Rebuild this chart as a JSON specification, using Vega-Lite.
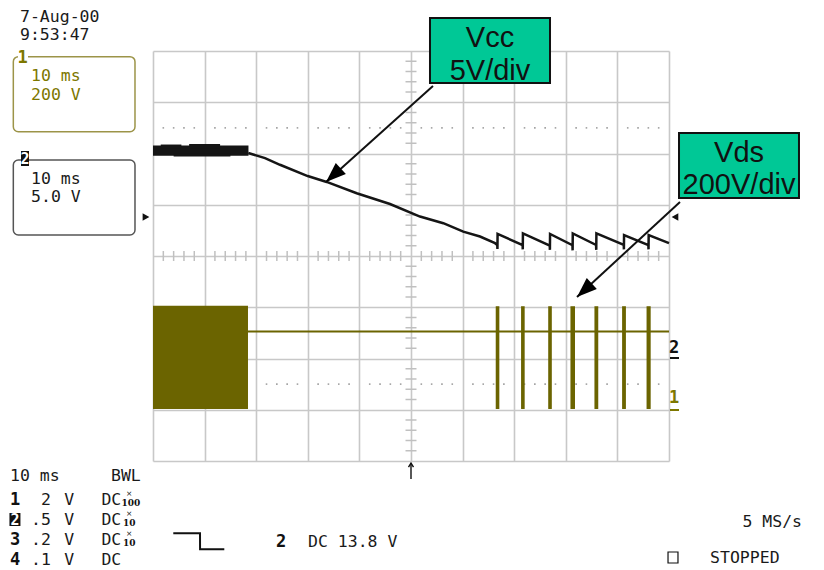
{
  "$schema": "https://vega.github.io/schema/vega-lite/v6.json",
  "width": 516,
  "height": 410,
  "autosize": {"type": "none"},
  "padding": {"left": 153, "top": 51, "right": 155, "bottom": 109},
  "background": "white",
  "config": {
    "view": {"stroke": null},
    "text": {"font": "DejaVu Sans Mono", "fontSize": 16.5, "baseline": "alphabetic", "align": "left", "color": "#1a1a1a"}
  },
  "datasets": {
    "hticks": [{"x":0.2,"y":4},{"x":0.4,"y":4},{"x":0.6,"y":4},{"x":0.8,"y":4},{"x":1.2,"y":4},{"x":1.4,"y":4},{"x":1.6,"y":4},{"x":1.8,"y":4},{"x":2.2,"y":4},{"x":2.4,"y":4},{"x":2.6,"y":4},{"x":2.8,"y":4},{"x":3.2,"y":4},{"x":3.4,"y":4},{"x":3.6,"y":4},{"x":3.8,"y":4},{"x":4.2,"y":4},{"x":4.4,"y":4},{"x":4.6,"y":4},{"x":4.8,"y":4},{"x":5.2,"y":4},{"x":5.4,"y":4},{"x":5.6,"y":4},{"x":5.8,"y":4},{"x":6.2,"y":4},{"x":6.4,"y":4},{"x":6.6,"y":4},{"x":6.8,"y":4},{"x":7.2,"y":4},{"x":7.4,"y":4},{"x":7.6,"y":4},{"x":7.8,"y":4},{"x":8.2,"y":4},{"x":8.4,"y":4},{"x":8.6,"y":4},{"x":8.8,"y":4},{"x":9.2,"y":4},{"x":9.4,"y":4},{"x":9.6,"y":4},{"x":9.8,"y":4}],
    "vticks": [{"x":5,"y":0.2},{"x":5,"y":0.4},{"x":5,"y":0.6},{"x":5,"y":0.8},{"x":5,"y":1.2},{"x":5,"y":1.4},{"x":5,"y":1.6},{"x":5,"y":1.8},{"x":5,"y":2.2},{"x":5,"y":2.4},{"x":5,"y":2.6},{"x":5,"y":2.8},{"x":5,"y":3.2},{"x":5,"y":3.4},{"x":5,"y":3.6},{"x":5,"y":3.8},{"x":5,"y":4.2},{"x":5,"y":4.4},{"x":5,"y":4.6},{"x":5,"y":4.8},{"x":5,"y":5.2},{"x":5,"y":5.4},{"x":5,"y":5.6},{"x":5,"y":5.8},{"x":5,"y":6.2},{"x":5,"y":6.4},{"x":5,"y":6.6},{"x":5,"y":6.8},{"x":5,"y":7.2},{"x":5,"y":7.4},{"x":5,"y":7.6},{"x":5,"y":7.8}],
    "dots": [{"x":0.2,"y":1.5},{"x":0.4,"y":1.5},{"x":0.6,"y":1.5},{"x":0.8,"y":1.5},{"x":1.2,"y":1.5},{"x":1.4,"y":1.5},{"x":1.6,"y":1.5},{"x":1.8,"y":1.5},{"x":2.2,"y":1.5},{"x":2.4,"y":1.5},{"x":2.6,"y":1.5},{"x":2.8,"y":1.5},{"x":3.2,"y":1.5},{"x":3.4,"y":1.5},{"x":3.6,"y":1.5},{"x":3.8,"y":1.5},{"x":4.2,"y":1.5},{"x":4.4,"y":1.5},{"x":4.6,"y":1.5},{"x":4.8,"y":1.5},{"x":5.2,"y":1.5},{"x":5.4,"y":1.5},{"x":5.6,"y":1.5},{"x":5.8,"y":1.5},{"x":6.2,"y":1.5},{"x":6.4,"y":1.5},{"x":6.6,"y":1.5},{"x":6.8,"y":1.5},{"x":7.2,"y":1.5},{"x":7.4,"y":1.5},{"x":7.6,"y":1.5},{"x":7.8,"y":1.5},{"x":8.2,"y":1.5},{"x":8.4,"y":1.5},{"x":8.6,"y":1.5},{"x":8.8,"y":1.5},{"x":9.2,"y":1.5},{"x":9.4,"y":1.5},{"x":9.6,"y":1.5},{"x":9.8,"y":1.5},
      {"x":0.2,"y":6.5},{"x":0.4,"y":6.5},{"x":0.6,"y":6.5},{"x":0.8,"y":6.5},{"x":1.2,"y":6.5},{"x":1.4,"y":6.5},{"x":1.6,"y":6.5},{"x":1.8,"y":6.5},{"x":2.2,"y":6.5},{"x":2.4,"y":6.5},{"x":2.6,"y":6.5},{"x":2.8,"y":6.5},{"x":3.2,"y":6.5},{"x":3.4,"y":6.5},{"x":3.6,"y":6.5},{"x":3.8,"y":6.5},{"x":4.2,"y":6.5},{"x":4.4,"y":6.5},{"x":4.6,"y":6.5},{"x":4.8,"y":6.5},{"x":5.2,"y":6.5},{"x":5.4,"y":6.5},{"x":5.6,"y":6.5},{"x":5.8,"y":6.5},{"x":6.2,"y":6.5},{"x":6.4,"y":6.5},{"x":6.6,"y":6.5},{"x":6.8,"y":6.5},{"x":7.2,"y":6.5},{"x":7.4,"y":6.5},{"x":7.6,"y":6.5},{"x":7.8,"y":6.5},{"x":8.2,"y":6.5},{"x":8.4,"y":6.5},{"x":8.6,"y":6.5},{"x":8.8,"y":6.5},{"x":9.2,"y":6.5},{"x":9.4,"y":6.5},{"x":9.6,"y":6.5},{"x":9.8,"y":6.5}],
    "vds_bars": [
      {"x":0,"x2":1.841,"y":1.015,"y2":3.03},
      {"x":6.642,"x2":6.712,"y":1.015,"y2":3.02},
      {"x":7.133,"x2":7.203,"y":1.015,"y2":3.02},
      {"x":7.659,"x2":7.729,"y":1.015,"y2":3.02},
      {"x":8.090,"x2":8.178,"y":1.015,"y2":3.02},
      {"x":8.555,"x2":8.629,"y":1.015,"y2":3.02},
      {"x":9.091,"x2":9.165,"y":1.015,"y2":3.02},
      {"x":9.565,"x2":9.645,"y":1.015,"y2":3.02}
    ],
    "vds_line": [{"x":1.841,"y":2.527},{"x":10,"y":2.527}],
    "vcc_band": [
      {"x":0.0,"x2":1.85,"y":6.155,"y2":5.955},
      {"x":0.15,"x2":0.55,"y":6.175,"y2":6.1},
      {"x":0.7,"x2":1.3,"y":6.185,"y2":6.1},
      {"x":0.4,"x2":1.5,"y":6.0,"y2":5.94}
    ],
    "vcc_line": [
      {"x":1.847,"y":6.01},{"x":2.171,"y":5.91},{"x":2.461,"y":5.78},{"x":2.998,"y":5.56},{"x":3.366,"y":5.445},
      {"x":3.948,"y":5.225},{"x":4.593,"y":5.015},{"x":5.174,"y":4.77},{"x":5.626,"y":4.64},{"x":6.013,"y":4.475},
      {"x":6.337,"y":4.38},{"x":6.628,"y":4.25},
      {"x":6.672,"y":4.215},{"x":6.675,"y":4.137},{"x":6.678,"y":4.43},
      {"x":7.163,"y":4.215},{"x":7.166,"y":4.13},{"x":7.169,"y":4.44},
      {"x":7.689,"y":4.205},{"x":7.692,"y":4.12},{"x":7.695,"y":4.43},
      {"x":8.129,"y":4.21},{"x":8.132,"y":4.11},{"x":8.135,"y":4.44},
      {"x":8.587,"y":4.215},{"x":8.590,"y":4.12},{"x":8.593,"y":4.44},
      {"x":9.123,"y":4.22},{"x":9.126,"y":4.13},{"x":9.129,"y":4.41},
      {"x":9.600,"y":4.215},{"x":9.603,"y":4.13},{"x":9.606,"y":4.41},
      {"x":10.0,"y":4.25}
    ],
    "note_boxes": [
      {"x":5.368,"x2":7.694,"y":8.644,"y2":7.376},
      {"x":10.194,"x2":12.519,"y":6.400,"y2":5.132}
    ],
    "note_text": [
      {"x":6.531,"y":8.078,"t":"Vcc"},
      {"x":6.531,"y":7.434,"t":"5V/div"},
      {"x":11.357,"y":5.834,"t":"Vds"},
      {"x":11.357,"y":5.210,"t":"200V/div"}
    ],
    "arrows": [
      {"x":5.426,"y":7.317,"x2":3.353,"y2":5.444},
      {"x":10.213,"y":5.054,"x2":8.217,"y2":3.200}
    ],
    "arrow_tips": [{"x":3.353,"y":5.444},{"x":8.217,"y":3.200}],
    "box1": [{"x":-2.707,"x2":-0.349,"y":7.889,"y2":6.425}],
    "box2": [{"x":-2.707,"x2":-0.349,"y":5.873,"y2":4.410}],
    "label_bg_white": [{"x":-2.616,"x2":-2.422,"y":7.93,"y2":7.74}],
    "label_bg_black": [
      {"x":-2.558,"x2":-2.403,"y":6.049,"y2":5.756},
      {"x":-2.782,"x2":-2.569,"y":-1.015,"y2":-1.268}
    ],
    "txt_black": [
      {"x":-2.578,"y":8.566,"t":"7-Aug-00"},
      {"x":-2.578,"y":8.215,"t":"9:53:47"},
      {"x":-2.364,"y":5.405,"t":"10 ms"},
      {"x":-2.364,"y":5.054,"t":"5.0 V"},
      {"x":-2.771,"y":-0.390,"t":"10 ms"},
      {"x":-0.814,"y":-0.390,"t":"BWL"},
      {"x":-1.72,"y":-0.859,"t":"V"},
      {"x":-1.72,"y":-1.249,"t":"V"},
      {"x":-1.72,"y":-1.639,"t":"V"},
      {"x":-1.72,"y":-2.029,"t":"V"},
      {"x":-1.0,"y":-0.859,"t":"DC"},
      {"x":-1.0,"y":-1.249,"t":"DC"},
      {"x":-1.0,"y":-1.639,"t":"DC"},
      {"x":-1.0,"y":-2.029,"t":"DC"},
      {"x":3.004,"y":-1.678,"t":"DC 13.8 V"},
      {"x":10.795,"y":-1.990,"t":"STOPPED"}
    ],
    "txt_right": [
      {"x":-1.977,"y":-0.859,"t":"2"},
      {"x":-1.977,"y":-1.249,"t":".5"},
      {"x":-1.977,"y":-1.639,"t":".2"},
      {"x":-1.977,"y":-2.029,"t":".1"},
      {"x":12.578,"y":-1.288,"t":"5 MS/s"}
    ],
    "txt_olive": [
      {"x":-2.364,"y":7.415,"t":"10 ms"},
      {"x":-2.364,"y":7.044,"t":"200 V"}
    ],
    "bold_black": [
      {"x":-2.674,"y":-0.859,"t":"1"},
      {"x":-2.674,"y":-1.639,"t":"3"},
      {"x":-2.674,"y":-2.029,"t":"4"},
      {"x":2.481,"y":-1.678,"t":"2"},
      {"x":10.101,"y":2.107,"t":"2"}
    ],
    "bold_olive": [
      {"x":-2.529,"y":7.766,"t":"1"},
      {"x":10.101,"y":1.132,"t":"1"}
    ],
    "bold_white": [
      {"x":-2.481,"y":5.79,"t":"2"},
      {"x":-2.674,"y":-1.249,"t":"2"}
    ],
    "tiny_x": [
      {"x":-0.46,"y":-0.675,"t":"×"},
      {"x":-0.46,"y":-1.065,"t":"×"},
      {"x":-0.46,"y":-1.455,"t":"×"}
    ],
    "tiny": [
      {"x":-0.43,"y":-0.878,"t":"100"},
      {"x":-0.46,"y":-1.268,"t":"10"},
      {"x":-0.46,"y":-1.659,"t":"10"}
    ],
    "step": [{"x":0.393,"y":-1.411},{"x":0.911,"y":-1.411},{"x":0.912,"y":-1.723},{"x":1.382,"y":-1.723}],
    "underline_black": [{"x":10.019,"x2":10.194,"y":2.010}],
    "underline_olive": [{"x":10.019,"x2":10.194,"y":0.995}],
    "stopped_box": [{"x":9.981,"x2":10.174,"y":-1.776,"y2":-1.990}],
    "trig": [{"x":5.0,"y":-0.04,"y2":-0.35}],
    "trig_tip": [{"x":5.0,"y":-0.04}],
    "mark_left": [{"x":-0.136,"y":4.761}],
    "mark_right": [{"x":10.116,"y":4.761}]
  },
  "encoding": {
    "x": {"field": "x", "type": "quantitative", "scale": {"domain": [0, 10], "nice": false, "zero": false},
      "axis": {"values": [0,1,2,3,4,5,6,7,8,9,10], "grid": true, "labels": false, "ticks": false, "domain": false, "title": null, "gridColor": "#c8c8c8", "gridWidth": 1.6}},
    "y": {"field": "y", "type": "quantitative", "scale": {"domain": [0, 8], "nice": false, "zero": false},
      "axis": {"values": [0,1,2,3,4,5,6,7,8], "grid": true, "labels": false, "ticks": false, "domain": false, "title": null, "gridColor": "#c8c8c8", "gridWidth": 1.6}}
  },
  "layer": [
    {"data": {"name": "dots"}, "mark": {"type": "square", "size": 2.5, "opacity": 1, "color": "#a0a0a0"}, "encoding": {}},
    {"data": {"name": "hticks"}, "mark": {"type": "tick", "orient": "vertical", "size": 10, "thickness": 1.5, "opacity": 1, "color": "#c0c0c0"}, "encoding": {}},
    {"data": {"name": "vticks"}, "mark": {"type": "tick", "orient": "horizontal", "size": 11, "thickness": 1.5, "opacity": 1, "color": "#c0c0c0"}, "encoding": {}},
    {"data": {"name": "vds_bars"}, "mark": {"type": "rect", "color": "#6b6400"},
      "encoding": {"x2": {"field": "x2"}, "y2": {"field": "y2"}}},
    {"data": {"name": "vds_line"}, "mark": {"type": "line", "color": "#6b6400", "strokeWidth": 1.8}, "encoding": {}},
    {"data": {"name": "vcc_band"}, "mark": {"type": "rect", "color": "#151515", "opacity": 1}, "encoding": {"x2": {"field": "x2"}, "y2": {"field": "y2"}}},
    {"data": {"name": "vcc_line"}, "mark": {"type": "line", "color": "#151515", "strokeWidth": 2.5}, "encoding": {}},
    {"data": {"name": "mark_left"}, "mark": {"type": "point", "shape": "triangle-right", "size": 60, "filled": true, "opacity": 1, "color": "#111"}, "encoding": {}},
    {"data": {"name": "mark_right"}, "mark": {"type": "point", "shape": "triangle-left", "size": 60, "filled": true, "opacity": 1, "color": "#111"}, "encoding": {}},
    {"data": {"name": "box1"}, "mark": {"type": "rect", "fill": "white", "stroke": "#9c9448", "strokeWidth": 1.5, "cornerRadius": 5},
      "encoding": {"x2": {"field": "x2"}, "y2": {"field": "y2"}}},
    {"data": {"name": "box2"}, "mark": {"type": "rect", "fill": "white", "stroke": "#555555", "strokeWidth": 1.5, "cornerRadius": 5},
      "encoding": {"x2": {"field": "x2"}, "y2": {"field": "y2"}}},
    {"data": {"name": "label_bg_white"}, "mark": {"type": "rect", "color": "white"},
      "encoding": {"x2": {"field": "x2"}, "y2": {"field": "y2"}}},
    {"data": {"name": "label_bg_black"}, "mark": {"type": "rect", "color": "#111"},
      "encoding": {"x2": {"field": "x2"}, "y2": {"field": "y2"}}},
    {"data": {"name": "txt_black"}, "mark": {"type": "text"}, "encoding": {"text": {"field": "t"}}},
    {"data": {"name": "txt_right"}, "mark": {"type": "text", "align": "right"}, "encoding": {"text": {"field": "t"}}},
    {"data": {"name": "txt_olive"}, "mark": {"type": "text", "color": "#7d7700"}, "encoding": {"text": {"field": "t"}}},
    {"data": {"name": "bold_black"}, "mark": {"type": "text", "fontWeight": "bold", "align": "center", "fontSize": 17, "color": "#111"}, "encoding": {"text": {"field": "t"}}},
    {"data": {"name": "bold_olive"}, "mark": {"type": "text", "fontWeight": "bold", "align": "center", "fontSize": 17, "color": "#7d7700"}, "encoding": {"text": {"field": "t"}}},
    {"data": {"name": "bold_white"}, "mark": {"type": "text", "fontWeight": "bold", "align": "center", "fontSize": 15, "color": "white"}, "encoding": {"text": {"field": "t"}}},
    {"data": {"name": "tiny_x"}, "mark": {"type": "text", "align": "center", "fontSize": 7.5, "font": "DejaVu Sans", "color": "#111"}, "encoding": {"text": {"field": "t"}}},
    {"data": {"name": "tiny"}, "mark": {"type": "text", "fontWeight": "bold", "align": "center", "fontSize": 9, "font": "DejaVu Serif", "color": "#111"}, "encoding": {"text": {"field": "t"}}},
    {"data": {"name": "step"}, "mark": {"type": "line", "color": "#111", "strokeWidth": 2}, "encoding": {}},
    {"data": {"name": "underline_black"}, "mark": {"type": "rule", "color": "#111", "strokeWidth": 2}, "encoding": {"x2": {"field": "x2"}}},
    {"data": {"name": "underline_olive"}, "mark": {"type": "rule", "color": "#7d7700", "strokeWidth": 2}, "encoding": {"x2": {"field": "x2"}}},
    {"data": {"name": "stopped_box"}, "mark": {"type": "rect", "fill": "white", "stroke": "#111", "strokeWidth": 1.2},
      "encoding": {"x2": {"field": "x2"}, "y2": {"field": "y2"}}},
    {"data": {"name": "trig"}, "mark": {"type": "rule", "color": "#111", "strokeWidth": 1.4}, "encoding": {"y2": {"field": "y2"}}},
    {"data": {"name": "trig_tip"}, "mark": {"type": "point", "shape": "M-1,1.6L0,0L1,1.6", "size": 25, "filled": false, "opacity": 1, "stroke": "#111", "strokeWidth": 1.4}, "encoding": {}},
    {"data": {"name": "arrows"}, "mark": {"type": "rule", "color": "#111", "strokeWidth": 2}, "encoding": {"x2": {"field": "x2"}, "y2": {"field": "y2"}}},
    {"data": {"name": "arrow_tips"}, "mark": {"type": "point", "shape": "M0,0L0.75,2L-0.75,2Z", "size": 400, "angle": 227.7, "filled": true, "opacity": 1, "color": "#000"}, "encoding": {}},
    {"data": {"name": "note_boxes"}, "mark": {"type": "rect", "fill": "#00c896", "stroke": "#111", "strokeWidth": 2},
      "encoding": {"x2": {"field": "x2"}, "y2": {"field": "y2"}}},
    {"data": {"name": "note_text"}, "mark": {"type": "text", "font": "Liberation Sans", "fontSize": 29, "align": "center", "color": "#111"}, "encoding": {"text": {"field": "t"}}}
  ]
}
